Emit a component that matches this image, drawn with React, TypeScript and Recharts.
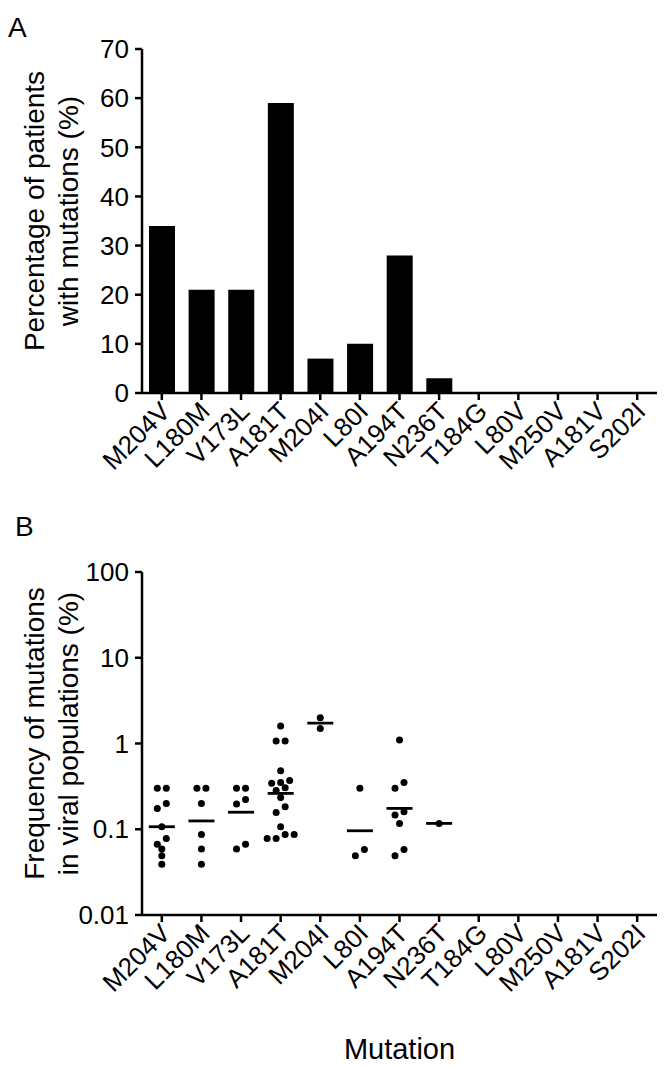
import React from 'react';
import { BarChart, Bar, ScatterChart, Scatter, XAxis, YAxis, Label } from 'recharts';

const mutations = ['M204V', 'L180M', 'V173L', 'A181T', 'M204I', 'L80I', 'A194T', 'N236T', 'T184G', 'L80V', 'M250V', 'A181V', 'S202I'];
const patientPercent = [34, 21, 21, 59, 7, 10, 28, 3, 0, 0, 0, 0, 0];
const percentTicks = [0, 10, 20, 30, 40, 50, 60, 70];

// frequency of each mutation in the viral population, one dot per patient
const m204vFreq = [0.3, 0.3, 0.2, 0.175, 0.107, 0.078, 0.067, 0.059, 0.049, 0.039];
const l180mFreq = [0.3, 0.3, 0.2, 0.087, 0.059, 0.039];
const v173lFreq = [0.3, 0.3, 0.223, 0.197, 0.067, 0.059];
const a181tFreq = [1.6, 1.07, 1.07, 0.48, 0.37, 0.35, 0.343, 0.305, 0.284, 0.235, 0.183, 0.157, 0.107, 0.087, 0.087, 0.078, 0.078];
const m204iFreq = [2.0, 1.5];
const l80iFreq = [0.3, 0.058, 0.049];
const a194tFreq = [1.1, 0.35, 0.3, 0.16, 0.147, 0.117, 0.058, 0.049];
const n236tFreq = [0.117];
const meanFreq = [0.107, 0.125, 0.158, 0.262, 1.73, 0.096, 0.175, 0.117, null, null, null, null, null];
const freqTicks = [0.01, 0.1, 1, 10, 100];

const freqByMutation = [m204vFreq, l180mFreq, v173lFreq, a181tFreq, m204iFreq, l80iFreq, a194tFreq, n236tFreq, [], [], [], [], []];

const FONT = '"Liberation Sans", Arial, Helvetica, sans-serif';
const AXIS = { stroke: '#000', strokeWidth: 2.5 };

const barData = mutations.map((m, i) => ({ mutation: m, pct: patientPercent[i] }));

// simple column scatter: values close on the log axis share a row, spread side by side
function swarm(values: number[], col: number) {
  const sorted = [...values].sort((a, b) => b - a);
  const rows: number[][] = [];
  sorted.forEach((v) => {
    const row = rows[rows.length - 1];
    if (row && Math.log10(row[0]) - Math.log10(v) < 0.075) row.push(v);
    else rows.push([v]);
  });
  const pts: { x: number; value: number; slot: number }[] = [];
  rows.forEach((row) => {
    const asc = [...row].sort((a, b) => a - b);
    asc.forEach((v, i) => pts.push({ x: col, value: v, slot: i - (asc.length - 1) / 2 }));
  });
  return pts;
}

const dots = freqByMutation.flatMap((vals, i) => swarm(vals, i));
const means = meanFreq
  .map((v, i) => ({ x: i, value: v }))
  .filter((d) => d.value !== null);

const SlantTick = (props: any) => {
  const { x, y, payload } = props;
  const name = typeof payload.value === 'number' ? mutations[payload.value] : payload.value;
  return (
    <g transform={`translate(${x + 10},${y + 11}) rotate(-45)`}>
      <text textAnchor="end" fontSize={26} fontFamily={FONT} fill="#000">
        {name}
      </text>
    </g>
  );
};

const Dot = (props: any) => (
  <circle cx={props.cx + props.payload.slot * 9} cy={props.cy} r={3.5} fill="#000" />
);

const MeanLine = (props: any) => (
  <line x1={props.cx - 13} x2={props.cx + 13} y1={props.cy} y2={props.cy} stroke="#000" strokeWidth={2.8} />
);

const twoLineLabel = (line1: string, line2: string) => (p: any) => {
  const vb = p.viewBox;
  const cy = vb.y + vb.height / 2 - 10;
  return (
    <g>
      <text transform={`translate(44,${cy}) rotate(-90)`} textAnchor="middle" fontSize={28} fontFamily={FONT} fill="#000">
        {line1}
      </text>
      <text transform={`translate(78,${cy}) rotate(-90)`} textAnchor="middle" fontSize={28} fontFamily={FONT} fill="#000">
        {line2}
      </text>
    </g>
  );
};

const letterStyle: React.CSSProperties = {
  position: 'absolute',
  fontFamily: FONT,
  fontSize: 28,
  lineHeight: 1,
  color: '#000',
};

export default function App() {
  return (
    <div style={{ position: 'absolute', left: 0, top: 0, width: 664, height: 1066, background: '#fff' }}>
      <div style={{ ...letterStyle, left: 8, top: 14 }}>A</div>
      <div style={{ ...letterStyle, left: 15, top: 513 }}>B</div>

      <div style={{ position: 'absolute', left: 0, top: 0 }}>
        <BarChart width={664} height={500} data={barData} margin={{ top: 49, right: 7, bottom: 0, left: 62 }}>
          <XAxis
            dataKey="mutation"
            interval={0}
            height={107}
            tick={<SlantTick />}
            tickSize={7}
            axisLine={AXIS}
            tickLine={AXIS}
          />
          <YAxis
            domain={[0, 70]}
            ticks={percentTicks}
            width={80}
            tickSize={7}
            tickMargin={6}
            axisLine={AXIS}
            tickLine={AXIS}
            tick={{ fill: '#000', fontSize: 26, fontFamily: FONT }}
          >
            <Label content={twoLineLabel('Percentage of patients', 'with mutations (%)')} />
          </YAxis>
          <Bar dataKey="pct" fill="#000" barSize={26} isAnimationActive={false} />
        </BarChart>
      </div>

      <div style={{ position: 'absolute', left: 0, top: 500 }}>
        <ScatterChart width={664} height={566} margin={{ top: 72, right: 7, bottom: 5, left: 62 }}>
          <XAxis
            type="number"
            dataKey="x"
            domain={[-0.5, 12.5]}
            ticks={mutations.map((_, i) => i)}
            interval={0}
            height={146}
            tick={<SlantTick />}
            tickSize={7}
            axisLine={AXIS}
            tickLine={AXIS}
          >
            <Label value="Mutation" position="insideBottom" offset={2} fontSize={29} fontFamily={FONT} fill="#000" />
          </XAxis>
          <YAxis
            type="number"
            dataKey="value"
            scale="log"
            domain={[0.01, 100]}
            ticks={freqTicks}
            allowDataOverflow
            width={80}
            tickSize={7}
            tickMargin={6}
            tickFormatter={(v: number) => String(v)}
            axisLine={AXIS}
            tickLine={AXIS}
            tick={{ fill: '#000', fontSize: 26, fontFamily: FONT }}
          >
            <Label content={twoLineLabel('Frequency of mutations', 'in viral populations (%)')} />
          </YAxis>
          <Scatter data={means} shape={<MeanLine />} isAnimationActive={false} />
          <Scatter data={dots} shape={<Dot />} isAnimationActive={false} />
        </ScatterChart>
      </div>
    </div>
  );
}
